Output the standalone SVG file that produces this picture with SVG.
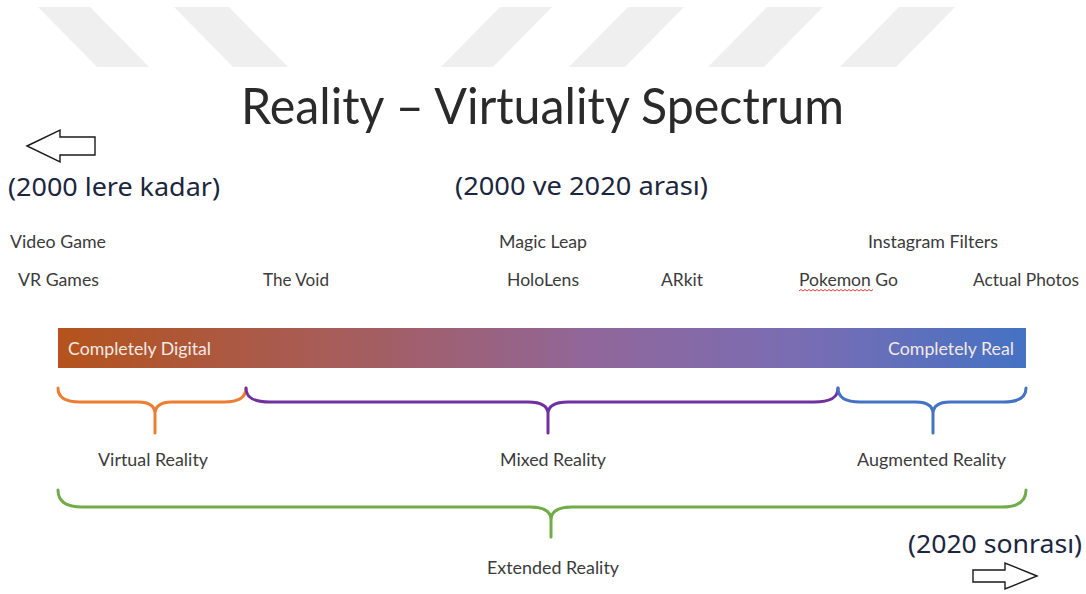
<svg xmlns="http://www.w3.org/2000/svg" width="1086" height="594" viewBox="0 0 1086 594">
  <style>
    .lbl { font-family: Lato, "Open Sans", "Liberation Sans", sans-serif; font-size: 18px; fill: #3b3b3b; }
    .bar-lbl { font-family: Lato, "Open Sans", "Liberation Sans", sans-serif; font-size: 18px; fill: #f4e9e4; }
    .era { font-family: "Noto Sans", "Open Sans", "DejaVu Sans", sans-serif; font-size: 26px; fill: #1b263e; }
    .title { font-family: Lato, "Open Sans", "Liberation Sans", sans-serif; font-size: 51px; font-weight: 400; fill: #2a2a2a; }
    .brace { fill: none; stroke-width: 3; stroke-linecap: round; stroke-linejoin: round; }
    .arrow { fill: #ffffff; stroke: #1a1a1a; stroke-width: 1.4; stroke-linejoin: miter; }
    .stripe { fill: #efefef; }
  </style>
  <defs>
    <linearGradient id="spectrum" x1="0" y1="0" x2="1" y2="0">
      <stop offset="0" stop-color="#b4531c"/>
      <stop offset="0.3" stop-color="#a65d5c"/>
      <stop offset="0.55" stop-color="#90669a"/>
      <stop offset="0.78" stop-color="#776db4"/>
      <stop offset="1" stop-color="#4472c4"/>
    </linearGradient>
  </defs>

  <rect width="1086" height="594" fill="#ffffff"/>

  <!-- faint diagonal band pattern across the top -->
  <g id="bands">
    <polygon class="stripe" points="38,7 90,7 149,67 97,67"/>
    <polygon class="stripe" points="174,7 229,7 288,67 233,67"/>
    <polygon class="stripe" points="500,7 552,7 493,67 441,67"/>
    <polygon class="stripe" points="628,7 684,7 625,67 569,67"/>
    <polygon class="stripe" points="767,7 823,7 764,67 708,67"/>
    <polygon class="stripe" points="899,7 955,7 896,67 840,67"/>
  </g>

  <g id="title">
    <text class="title" x="241" y="124" textLength="603" lengthAdjust="spacingAndGlyphs">Reality – Virtuality Spectrum</text>
  </g>

  <!-- era markers -->
  <g id="era-past">
    <polygon class="arrow" points="27,146 60,130 60,137 95,137 95,155 60,155 60,162"/>
    <text class="era" x="8" y="196" textLength="212" lengthAdjust="spacingAndGlyphs">(2000 lere kadar)</text>
  </g>
  <g id="era-present">
    <text class="era" x="455" y="195" textLength="253" lengthAdjust="spacingAndGlyphs">(2000 ve 2020 arası)</text>
  </g>
  <g id="era-future">
    <text class="era" x="908" y="553" textLength="174" lengthAdjust="spacingAndGlyphs">(2020 sonrası)</text>
    <polygon class="arrow" points="1037,576 1005,563 1005,570 973,570 973,582 1005,582 1005,589"/>
  </g>

  <!-- example products -->
  <g id="examples">
    <text class="lbl" x="10" y="248" textLength="96" lengthAdjust="spacingAndGlyphs">Video Game</text>
    <text class="lbl" x="18" y="286" textLength="81" lengthAdjust="spacingAndGlyphs">VR Games</text>
    <text class="lbl" x="263" y="286" textLength="66" lengthAdjust="spacingAndGlyphs">The Void</text>
    <text class="lbl" x="499" y="248" textLength="88" lengthAdjust="spacingAndGlyphs">Magic Leap</text>
    <text class="lbl" x="507" y="286" textLength="72" lengthAdjust="spacingAndGlyphs">HoloLens</text>
    <text class="lbl" x="661" y="286" textLength="42" lengthAdjust="spacingAndGlyphs">ARkit</text>
    <text class="lbl" x="799" y="286" textLength="99" lengthAdjust="spacingAndGlyphs">Pokemon Go</text>
    <polyline points="799,291 801,289.5 803,291 805,289.5 807,291 809,289.5 811,291 813,289.5 815,291 817,289.5 819,291 821,289.5 823,291 825,289.5 827,291 829,289.5 831,291 833,289.5 835,291 837,289.5 839,291 841,289.5 843,291 845,289.5 847,291 849,289.5 851,291 853,289.5 855,291 857,289.5 859,291 861,289.5 863,291 865,289.5 867,291 869,289.5 871,291 873,289.5" fill="none" stroke="#e0403c" stroke-width="1"/>
    <text class="lbl" x="868" y="248" textLength="130" lengthAdjust="spacingAndGlyphs">Instagram Filters</text>
    <text class="lbl" x="973" y="286" textLength="106" lengthAdjust="spacingAndGlyphs">Actual Photos</text>
  </g>

  <!-- spectrum bar -->
  <g id="spectrum-bar">
    <rect x="58" y="328" width="968" height="40" fill="url(#spectrum)"/>
    <text class="bar-lbl" x="68" y="355" textLength="143" lengthAdjust="spacingAndGlyphs">Completely Digital</text>
    <text class="bar-lbl" x="888" y="355" textLength="126" lengthAdjust="spacingAndGlyphs">Completely Real</text>
  </g>

  <!-- braces grouping the spectrum ranges -->
  <g id="connectors">
    <path class="brace" stroke="#ed7d31" d="M58,388 C58,398 66,402 80,402 L138,402 C149,402 155,406 155,414 L155,433 M155,414 C155,406 161,402 172,402 L224,402 C238,402 246,398 246,388"/>
    <path class="brace" stroke="#7030a0" d="M246,388 C246,398 254,402 270,402 L528,402 C541,402 548,406 548,414 L548,433 M548,414 C548,406 555,402 568,402 L814,402 C830,402 838,398 838,388"/>
    <path class="brace" stroke="#4472c4" d="M838,388 C838,398 846,402 860,402 L916,402 C927,402 933,406 933,414 L933,433 M933,414 C933,406 939,402 950,402 L1004,402 C1018,402 1026,398 1026,388"/>
    <path class="brace" stroke="#70ad47" d="M58,490 C58,501 66,507 82,507 L530,507 C544,507 551,511 551,520 L551,537 M551,520 C551,511 558,507 572,507 L1002,507 C1018,507 1026,501 1026,490"/>
  </g>

  <g id="range-virtual">
    <text class="lbl" x="98" y="466" textLength="110" lengthAdjust="spacingAndGlyphs">Virtual Reality</text>
  </g>
  <g id="range-mixed">
    <text class="lbl" x="500" y="466" textLength="106" lengthAdjust="spacingAndGlyphs">Mixed Reality</text>
  </g>
  <g id="range-augmented">
    <text class="lbl" x="857" y="466" textLength="149" lengthAdjust="spacingAndGlyphs">Augmented Reality</text>
  </g>
  <g id="range-extended">
    <text class="lbl" x="487" y="574" textLength="132" lengthAdjust="spacingAndGlyphs">Extended Reality</text>
  </g>
</svg>
